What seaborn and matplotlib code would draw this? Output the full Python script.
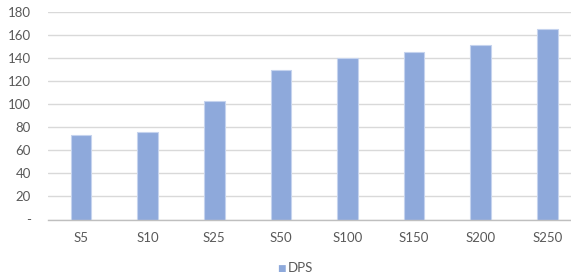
import matplotlib
matplotlib.use("Agg")
import matplotlib.pyplot as plt
import seaborn as sns
import pandas as pd
from matplotlib.ticker import FixedLocator, FuncFormatter

categories = ["S5", "S10", "S25", "S50", "S100", "S150", "S200", "S250"]
dps_values = [73, 76, 103, 130, 140, 145, 151, 165]
series_name = "DPS"
y_ticks = [0, 20, 40, 60, 80, 100, 120, 140, 160, 180]

df = pd.DataFrame({"cat": categories, "val": dps_values, "series": series_name})

sns.set_theme(style="white")
plt.rcParams["font.family"] = ["Lato", "DejaVu Sans"]

fig = plt.figure(figsize=(5.71, 2.80), dpi=100)
ax = fig.add_axes([47.7 / 571, (280 - 219.5) / 280, 533 / 571, 207.5 / 280])

bar_color = "#8EA9DB"
sns.barplot(data=df, x="cat", y="val", hue="series", palette=[bar_color],
            width=0.31, edgecolor="#C5D3EE", linewidth=0.8, ax=ax, legend=False,
            saturation=1)

ax.set_ylim(0, 180)
ax.set_xlim(-0.5, len(categories) - 0.5)
ax.yaxis.set_major_locator(FixedLocator(y_ticks))
ax.yaxis.set_major_formatter(FuncFormatter(lambda v, p: "-" if v == 0 else f"{int(v)}"))
ax.grid(axis="y", color="#D9D9D9", linewidth=1)
ax.set_axisbelow(True)
for s in ["top", "right", "left"]:
    ax.spines[s].set_visible(False)
ax.spines["bottom"].set_color("#BFBFBF")
ax.spines["bottom"].set_linewidth(1)
ax.tick_params(axis="both", length=0, labelsize=9.5, labelcolor="#595959")
ax.tick_params(axis="y", pad=12)
ax.tick_params(axis="x", pad=9)
ax.set_xlabel("")
ax.set_ylabel("")

fig.text(0.4925, 0.041, "\u25A0", color=bar_color, fontsize=6.5, ha="center", va="center")
fig.text(0.5045, 0.043, series_name, color="#595959", fontsize=9.5, ha="left", va="center")

fig.savefig("out.png", dpi=100, facecolor="white")
